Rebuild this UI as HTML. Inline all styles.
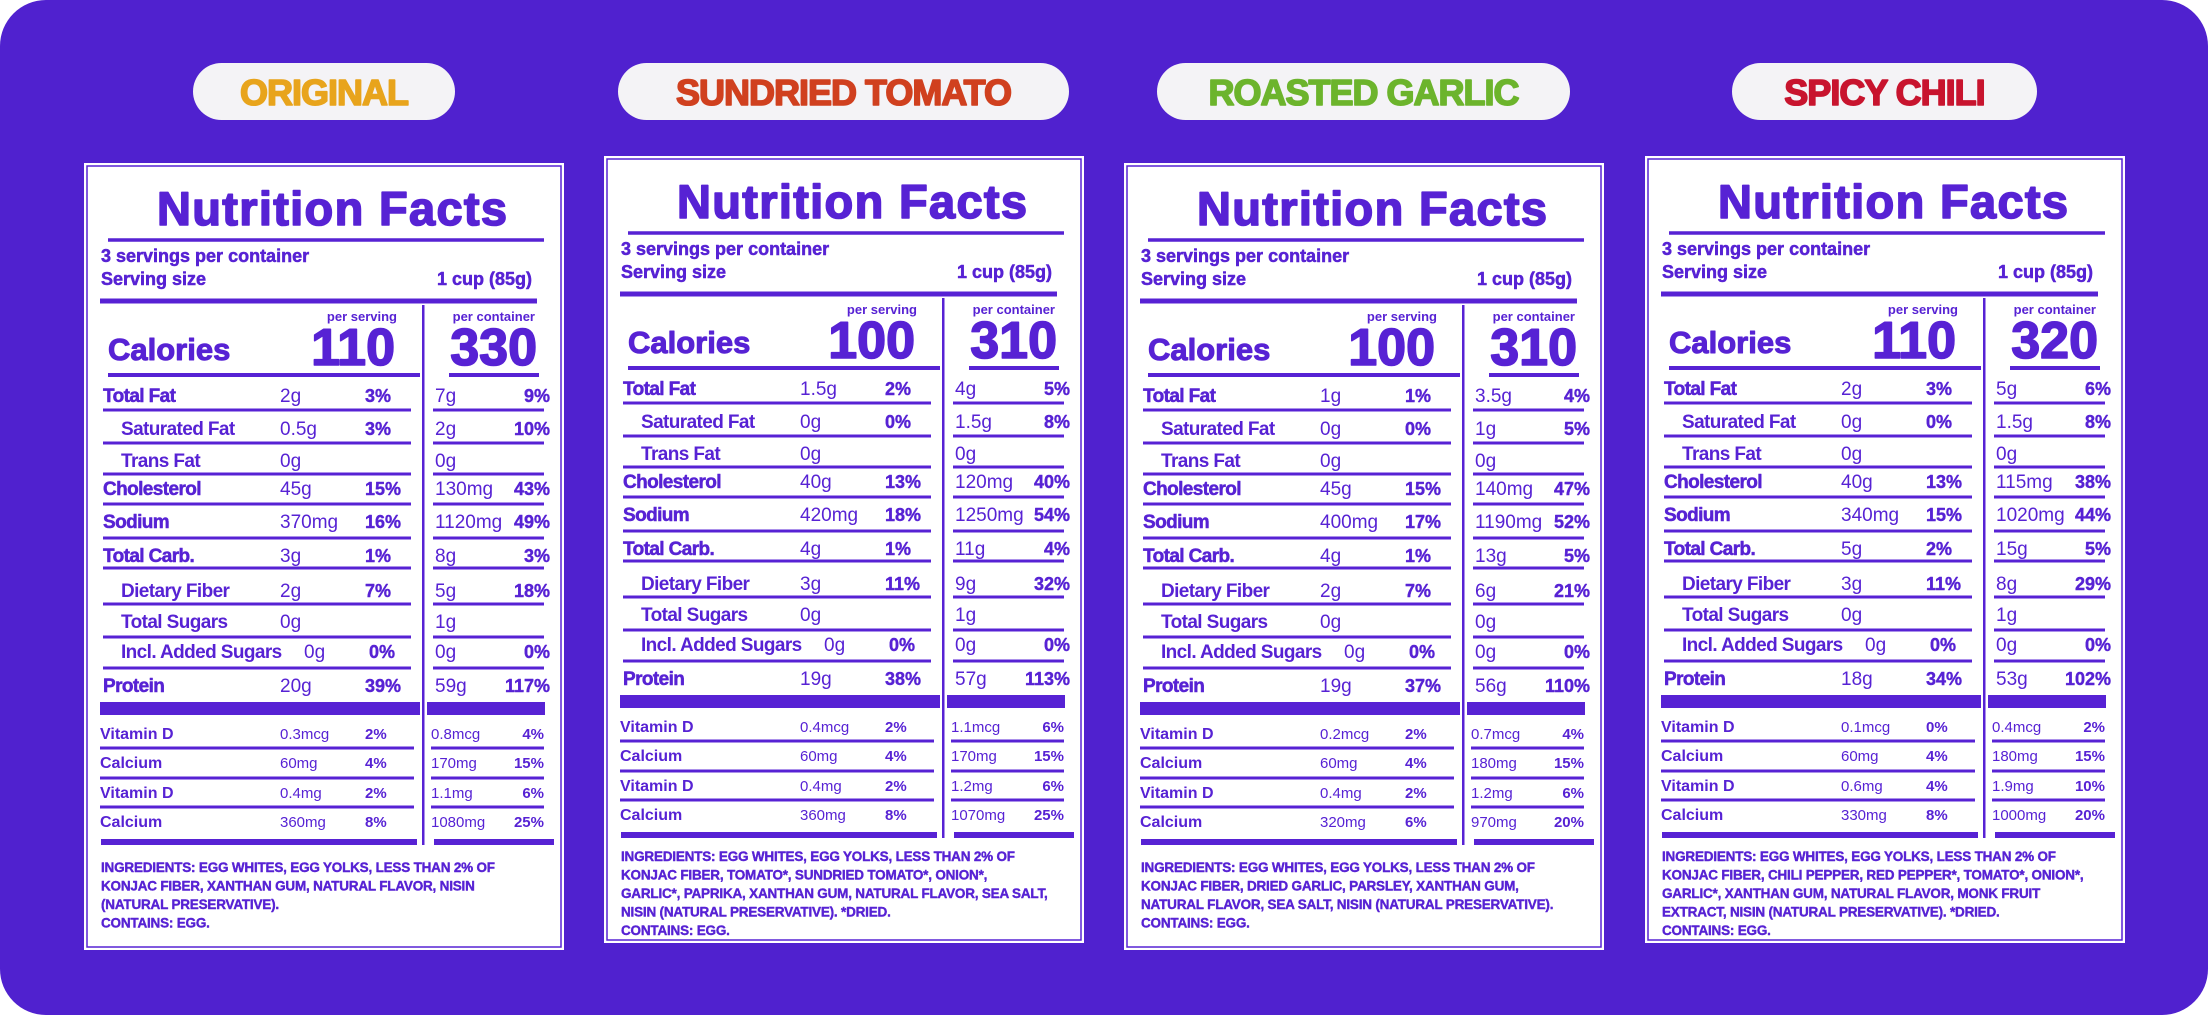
<!DOCTYPE html>
<html><head><meta charset="utf-8">
<style>
html,body{margin:0;padding:0;background:#fff;}
svg{display:block;}
text{font-family:"Liberation Sans",sans-serif;}
</style></head>
<body>
<svg id="s" width="2208" height="1015" viewBox="0 0 2208 1015" xmlns="http://www.w3.org/2000/svg">
<rect x="0" y="0" width="2208" height="1015" rx="46" fill="#5021cf"/>
</svg>
<script>
const NS="http://www.w3.org/2000/svg";
const svg=document.getElementById('s');
const P="#5722d4";
const flavors=["ORIGINAL","SUNDRIED TOMATO","ROASTED GARLIC","SPICY CHILI"];
const flavorColors=["#e8a41c","#d0401f","#6cb42c","#c8142e"];
const calServing=["110","100","100","110"];
const calContainer=["330","310","310","320"];
const labels=["Total Fat","Saturated Fat","Trans Fat","Cholesterol","Sodium","Total Carb.","Dietary Fiber","Total Sugars","Incl. Added Sugars","Protein"];
const indent=[0,1,1,0,0,0,1,1,1,0];
const servAmt=[
["2g","0.5g","0g","45g","370mg","3g","2g","0g","0g","20g"],
["1.5g","0g","0g","40g","420mg","4g","3g","0g","0g","19g"],
["1g","0g","0g","45g","400mg","4g","2g","0g","0g","19g"],
["2g","0g","0g","40g","340mg","5g","3g","0g","0g","18g"]];
const servPct=[
["3%","3%","","15%","16%","1%","7%","","0%","39%"],
["2%","0%","","13%","18%","1%","11%","","0%","38%"],
["1%","0%","","15%","17%","1%","7%","","0%","37%"],
["3%","0%","","13%","15%","2%","11%","","0%","34%"]];
const contAmt=[
["7g","2g","0g","130mg","1120mg","8g","5g","1g","0g","59g"],
["4g","1.5g","0g","120mg","1250mg","11g","9g","1g","0g","57g"],
["3.5g","1g","0g","140mg","1190mg","13g","6g","0g","0g","56g"],
["5g","1.5g","0g","115mg","1020mg","15g","8g","1g","0g","53g"]];
const contPct=[
["9%","10%","","43%","49%","3%","18%","","0%","117%"],
["5%","8%","","40%","54%","4%","32%","","0%","113%"],
["4%","5%","","47%","52%","5%","21%","","0%","110%"],
["6%","8%","","38%","44%","5%","29%","","0%","102%"]];
const vitLabels=["Vitamin D","Calcium","Vitamin D","Calcium"];
const vitServ=[["0.3mcg","60mg","0.4mg","360mg"],["0.4mcg","60mg","0.4mg","360mg"],["0.2mcg","60mg","0.4mg","320mg"],["0.1mcg","60mg","0.6mg","330mg"]];
const vitServPct=[["2%","4%","2%","8%"],["2%","4%","2%","8%"],["2%","4%","2%","6%"],["0%","4%","4%","8%"]];
const vitCont=[["0.8mcg","170mg","1.1mg","1080mg"],["1.1mcg","170mg","1.2mg","1070mg"],["0.7mcg","180mg","1.2mg","970mg"],["0.4mcg","180mg","1.9mg","1000mg"]];
const vitContPct=[["4%","15%","6%","25%"],["6%","15%","6%","25%"],["4%","15%","6%","20%"],["2%","15%","10%","20%"]];
const ingredients=[
["INGREDIENTS: EGG WHITES, EGG YOLKS, LESS THAN 2% OF","KONJAC FIBER, XANTHAN GUM, NATURAL FLAVOR, NISIN","(NATURAL PRESERVATIVE).","CONTAINS: EGG."],
["INGREDIENTS: EGG WHITES, EGG YOLKS, LESS THAN 2% OF","KONJAC FIBER, TOMATO*, SUNDRIED TOMATO*, ONION*,","GARLIC*, PAPRIKA, XANTHAN GUM, NATURAL FLAVOR, SEA SALT,","NISIN (NATURAL PRESERVATIVE). *DRIED.","CONTAINS: EGG."],
["INGREDIENTS: EGG WHITES, EGG YOLKS, LESS THAN 2% OF","KONJAC FIBER, DRIED GARLIC, PARSLEY, XANTHAN GUM,","NATURAL FLAVOR, SEA SALT, NISIN (NATURAL PRESERVATIVE).","CONTAINS: EGG."],
["INGREDIENTS: EGG WHITES, EGG YOLKS, LESS THAN 2% OF","KONJAC FIBER, CHILI PEPPER, RED PEPPER*, TOMATO*, ONION*,","GARLIC*, XANTHAN GUM, NATURAL FLAVOR, MONK FRUIT","EXTRACT, NISIN (NATURAL PRESERVATIVE). *DRIED.","CONTAINS: EGG."]];
const panelX=[84,604,1124,1645];
const panelY=[163,156,163,156];
const pillX=[193,618,1157,1732];
const pillW=[262,451,413,305];
const rowBase=[239,272,304,332,365,399,434,465,495,529];
const rowLine=[247,280,311,341,375,405,441,474,505];
const vitBase=[576,605,635,664];
const vitLine=[585,615,644];

function el(tag,attrs,parent){const e=document.createElementNS(NS,tag);for(const k in attrs)e.setAttribute(k,attrs[k]);(parent||svg).appendChild(e);return e;}
function txt(g,x,y,s,size,weight,anchor,fill){const t=el('text',{x:x,y:y,'font-size':size,'font-weight':weight,'text-anchor':anchor||'start',fill:fill||P},g);t.textContent=s;return t;}
function line(g,x1,x2,y,h){return el('rect',{x:x1,y:y-h/2,width:x2-x1,height:h,fill:P},g);}
function heavy(t,w,c){t.setAttribute('stroke',c||P);t.setAttribute('stroke-width',w);t.setAttribute('stroke-linejoin','round');}

for(let i=0;i<4;i++){
  const pill=el('g',{});
  
  
  el('rect',{x:pillX[i],y:63,width:pillW[i],height:57,rx:28.5,fill:'#f4f3f6'},pill);
  const pt=txt(pill,pillX[i]+pillW[i]/2,105,flavors[i],36,'bold','middle',flavorColors[i]);
  pt.setAttribute('letter-spacing','-1');
  heavy(pt,1.6,flavorColors[i]);

  const g=el('g',{transform:`translate(${panelX[i]},${panelY[i]})`});
  
  
  el('rect',{x:0,y:0,width:480,height:787,fill:'#fff'},g);
  el('rect',{x:3,y:3,width:474,height:781,fill:'none',stroke:P,'stroke-width':1.5},g);
  const t=txt(g,248,62,'Nutrition Facts',47,'bold','middle');
  t.setAttribute('textLength','350');
  heavy(t,1.6);
  
  
  line(g,24,460,77,3.5);
  heavy(txt(g,17,99,'3 servings per container',18,'bold'),0.5);
  heavy(txt(g,17,122,'Serving size',18,'bold'),0.5);
  heavy(txt(g,448,122,'1 cup (85g)',18,'bold','end'),0.5);
  line(g,16,453,138,5);
  el('rect',{x:338,y:142,width:2.5,height:540,fill:P},g);
  txt(g,313,158,'per serving',13,'bold','end');
  txt(g,451,158,'per container',13,'bold','end');
  heavy(txt(g,24,197,'Calories',31,'bold'),1);
  const c1=txt(g,311,202,calServing[i],52,'bold','end');
  heavy(c1,1.6);
  
  
  const c2=txt(g,453,202,calContainer[i],52,'bold','end');
  heavy(c2,1.6);
  
  
  line(g,24,336,212,4);
  line(g,365,455,212,4);
  for(let r=0;r<labels.length;r++){
    const y=rowBase[r];
    const lb=txt(g,indent[r]?37:19,y,labels[r],19,'bold');
    lb.setAttribute('letter-spacing','-0.6');
    if(!indent[r])heavy(lb,0.5);
    txt(g,r==8?220:196,y,servAmt[i][r],19,'normal');
    if(servPct[i][r])heavy(txt(g,r==8?285:281,y,servPct[i][r],18,'bold'),0.4);
    txt(g,351,y,contAmt[i][r],19,'normal');
    if(contPct[i][r])heavy(txt(g,466,y,contPct[i][r],18,'bold','end'),0.4);
    if(r<rowLine.length){line(g,19,327,rowLine[r],3);line(g,349,460,rowLine[r],3);}
  }
  el('rect',{x:16,y:539,width:320,height:13,fill:P},g);
  el('rect',{x:343,y:539,width:118,height:13,fill:P},g);
  for(let r=0;r<4;r++){
    const y=vitBase[r];
    txt(g,16,y,vitLabels[r],16,'bold');
    txt(g,196,y,vitServ[i][r],15,'normal');
    txt(g,281,y,vitServPct[i][r],15,'bold');
    txt(g,347,y,vitCont[i][r],15,'normal');
    txt(g,460,y,vitContPct[i][r],15,'bold','end');
    if(r<3){line(g,16,330,vitLine[r],3);line(g,347,460,vitLine[r],3);}
  }
  line(g,17,333,679,6);
  line(g,350,470,679,6);
  const ing=el('g',{},g);
  
  
  const ib=i%2?705:709;
  ingredients[i].forEach((s,k)=>{const it=txt(ing,17,ib+k*18.5,s,13.5,'bold');it.setAttribute('letter-spacing','-0.2');heavy(it,0.4);});
}
</script>
</body></html>
